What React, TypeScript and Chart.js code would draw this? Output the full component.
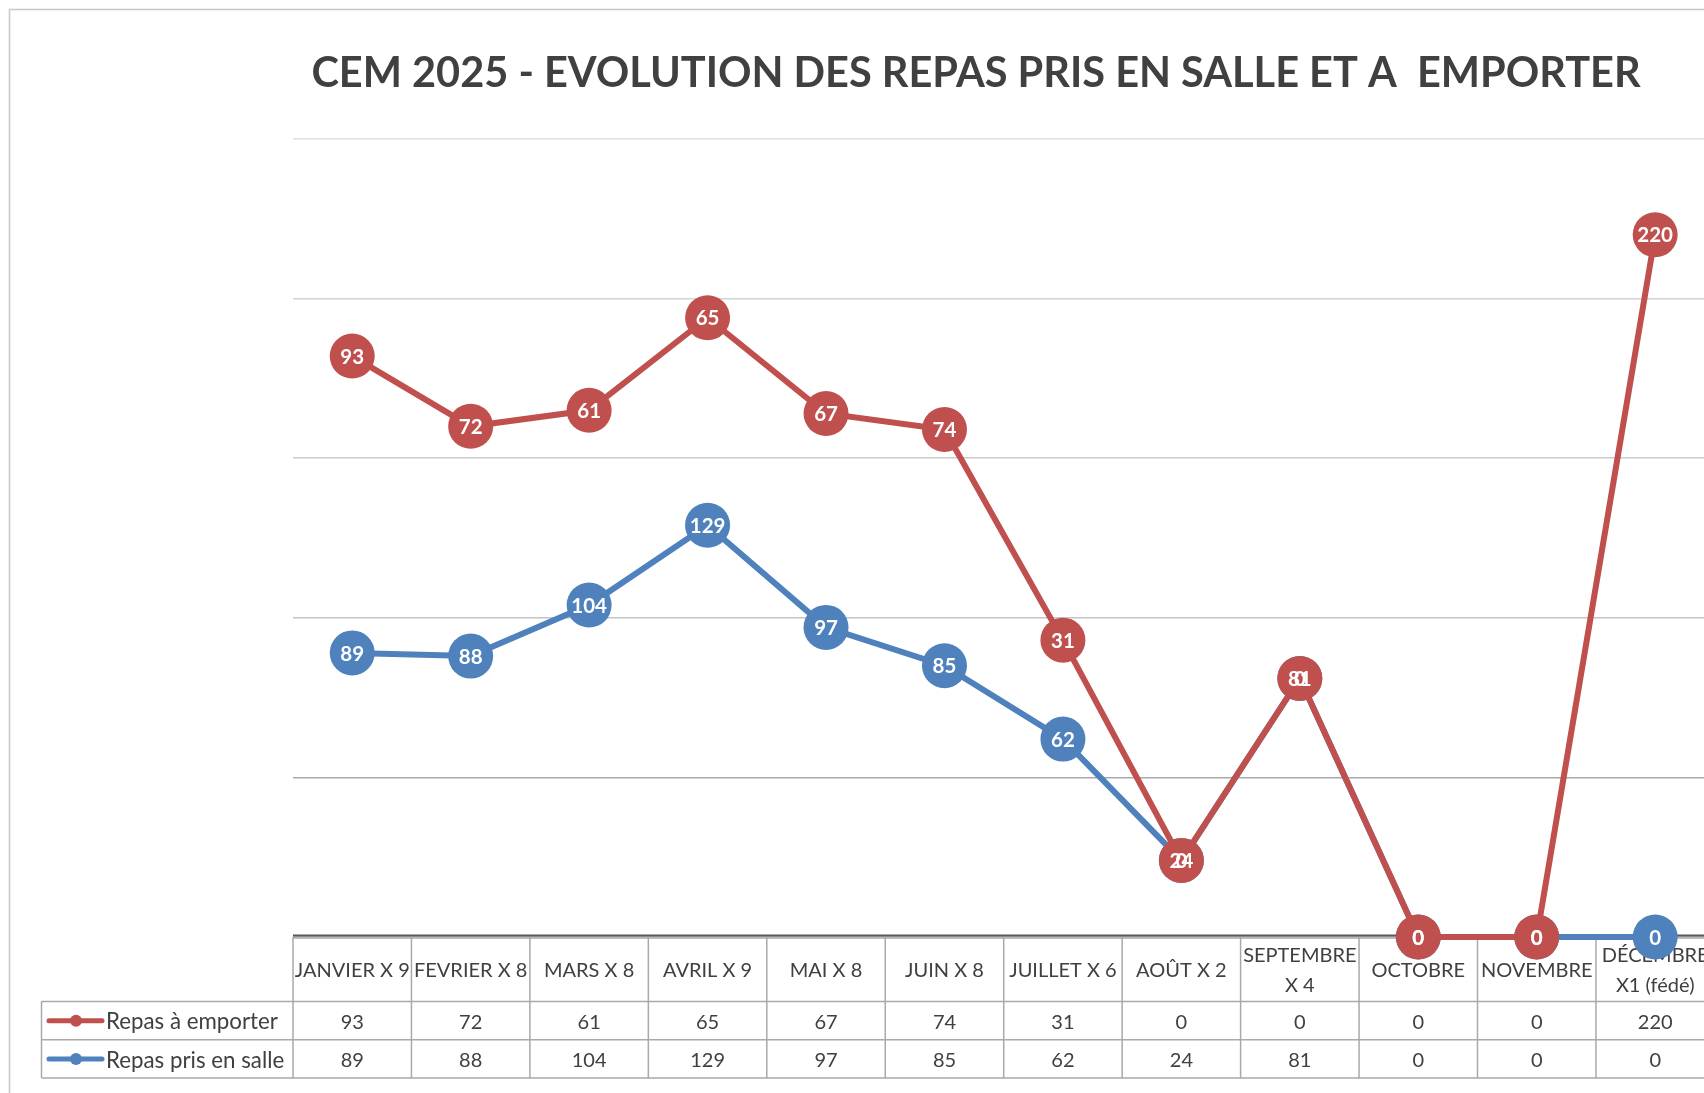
import React, { useEffect, useRef } from "react";
import { Chart, registerables } from "chart.js";

Chart.register(...registerables);

// ---------- data ----------
const TITLE = "CEM 2025 - EVOLUTION DES REPAS PRIS EN SALLE ET A  EMPORTER";

const categories: (string | string[])[] = [
  "JANVIER X 9",
  "FEVRIER X 8",
  "MARS X 8",
  "AVRIL X 9",
  "MAI X 8",
  "JUIN X 8",
  "JUILLET X 6",
  "AOÛT X 2",
  ["SEPTEMBRE", "X 4"],
  "OCTOBRE",
  "NOVEMBRE",
  ["DÉCEMBRE", "X1 (fédé)"],
];

const labelEmporter = "Repas à emporter";
const labelSalle = "Repas pris en salle";
const repasEmporter = [93, 72, 61, 65, 67, 74, 31, 0, 0, 0, 0, 220];
const repasSalle = [89, 88, 104, 129, 97, 85, 62, 24, 81, 0, 0, 0];

const yMin = 0;
const yMax = 250;
const yStep = 50;

// ---------- style ----------
const RED = "#C0504D";
const BLUE = "#4F81BD";
const TEXT = "#404040";
const FONT = "Lato, 'Noto Sans', sans-serif";
const GRID_COLORS = ["#bfbfbf", "#a9a9a9", "#c4c4c4", "#cccccc", "#d4d4d4", "#e0e0e0"];

const CANVAS_W = 1952;
const CANVAS_H = 1093;

function line(ctx: CanvasRenderingContext2D, x1: number, y1: number, x2: number, y2: number) {
  ctx.beginPath();
  ctx.moveTo(x1, y1);
  ctx.lineTo(x2, y2);
  ctx.stroke();
}

const excelPlugin = {
  id: "excelLook",
  beforeDraw(chart: any) {
    const ctx: CanvasRenderingContext2D = chart.ctx;
    ctx.save();
    // chart frame
    ctx.strokeStyle = "#c8c8c8";
    ctx.lineWidth = 1.5;
    ctx.beginPath();
    ctx.moveTo(9.5, chart.height);
    ctx.lineTo(9.5, 9.5);
    ctx.lineTo(chart.width, 9.5);
    ctx.stroke();
    // title
    ctx.fillStyle = TEXT;
    ctx.font = `bold 41.5px ${FONT}`;
    ctx.textAlign = "center";
    ctx.textBaseline = "alphabetic";
    ctx.fillText(TITLE, 976, 87);
    ctx.restore();
  },
  beforeDatasetsDraw(chart: any) {
    const ctx: CanvasRenderingContext2D = chart.ctx;
    const area = chart.chartArea;
    const xs = chart.scales.x;
    const n = categories.length;
    const step = xs.getPixelForValue(1) - xs.getPixelForValue(0);
    const edge = (i: number) => xs.getPixelForValue(i) - step / 2;
    const top = area.bottom;
    const headerBottom = top + 64.5;
    const row1Bottom = headerBottom + 38.3;
    const row2Bottom = row1Bottom + 38.3;
    const legendLeft = 41.5;

    ctx.save();
    // table grid
    ctx.strokeStyle = "#a9a9a9";
    ctx.lineWidth = 1.5;
    line(ctx, edge(0), top + 1, edge(n), top + 1);
    line(ctx, legendLeft, headerBottom, edge(n), headerBottom);
    line(ctx, legendLeft, row1Bottom, edge(n), row1Bottom);
    line(ctx, legendLeft, row2Bottom, edge(n), row2Bottom);
    line(ctx, legendLeft, headerBottom, legendLeft, row2Bottom);
    for (let i = 0; i <= n; i++) line(ctx, edge(i), top, edge(i), row2Bottom);
    // category axis line
    ctx.strokeStyle = "#595959";
    ctx.lineWidth = 2;
    line(ctx, area.left, top - 1.5, area.right, top - 1.5);

    // header labels
    ctx.fillStyle = TEXT;
    ctx.font = `20px ${FONT}`;
    ctx.textAlign = "center";
    ctx.textBaseline = "middle";
    const hMid = (top + headerBottom) / 2 + 1;
    categories.forEach((c, i) => {
      const cx = xs.getPixelForValue(i);
      const lines = Array.isArray(c) ? c : [c];
      const lh = 30;
      lines.forEach((t, k) => {
        ctx.fillText(t, cx, hMid + (k - (lines.length - 1) / 2) * lh);
      });
    });

    // data rows
    const rows = [
      { label: labelEmporter, color: RED, data: repasEmporter, y0: headerBottom, y1: row1Bottom },
      { label: labelSalle, color: BLUE, data: repasSalle, y0: row1Bottom, y1: row2Bottom },
    ];
    rows.forEach((r) => {
      const cy = (r.y0 + r.y1) / 2 + 1.5;
      ctx.font = `20px ${FONT}`;
      r.data.forEach((v, i) => {
        ctx.fillStyle = TEXT;
        ctx.textAlign = "center";
        ctx.fillText(String(v), xs.getPixelForValue(i), cy);
      });
      // legend key
      const ky = (r.y0 + r.y1) / 2;
      ctx.strokeStyle = r.color;
      ctx.lineWidth = 5;
      ctx.lineCap = "round";
      line(ctx, 49, ky, 102, ky);
      ctx.fillStyle = r.color;
      ctx.beginPath();
      ctx.arc(76, ky, 6, 0, Math.PI * 2);
      ctx.fill();
      ctx.fillStyle = TEXT;
      ctx.textAlign = "left";
      ctx.font = `22.3px ${FONT}`;
      ctx.fillText(r.label, 106, cy);
    });
    ctx.restore();

    // datasets: bottom stack (salle) first, then emporter on top
    [0, 1].forEach((i) => {
      const meta = chart.getDatasetMeta(i);
      if (!meta.hidden) meta.controller.draw();
    });

    // value labels inside markers
    ctx.save();
    ctx.fillStyle = "#ffffff";
    ctx.font = `bold 20.5px ${FONT}`;
    ctx.textAlign = "center";
    ctx.textBaseline = "middle";
    [0, 1].forEach((i) => {
      const meta = chart.getDatasetMeta(i);
      const ds = chart.data.datasets[i];
      meta.data.forEach((pt: any, j: number) => {
        ctx.fillText(String(ds.data[j]), pt.x, pt.y + 1);
      });
    });
    ctx.restore();
    return false;
  },
};

export default function App() {
  const ref = useRef<HTMLCanvasElement | null>(null);

  useEffect(() => {
    if (!ref.current) return;
    const chart = new Chart(ref.current, {
      type: "line",
      data: {
        labels: categories,
        datasets: [
          {
            label: labelSalle,
            data: repasSalle,
            borderColor: BLUE,
            backgroundColor: BLUE,
            borderWidth: 6,
            pointRadius: 22.5,
            pointBorderWidth: 0,
            pointBackgroundColor: BLUE,
            tension: 0,
            fill: false,
            clip: false,
          },
          {
            label: labelEmporter,
            data: repasEmporter,
            borderColor: RED,
            backgroundColor: RED,
            borderWidth: 6,
            pointRadius: 22.5,
            pointBorderWidth: 0,
            pointBackgroundColor: RED,
            tension: 0,
            fill: false,
            clip: false,
          },
        ],
      },
      options: {
        responsive: false,
        animation: false,
        devicePixelRatio: 1,
        events: [],
        layout: { padding: { left: 293, right: CANVAS_W - 1714.4, top: 139, bottom: CANVAS_H - 937 } },
        plugins: {
          legend: { display: false },
          title: { display: false },
          tooltip: { enabled: false },
        },
        scales: {
          x: { display: false, offset: true },
          y: {
            stacked: true,
            min: yMin,
            max: yMax,
            display: true,
            border: { display: false },
            ticks: { display: false, stepSize: yStep },
            grid: {
              drawTicks: false,
              lineWidth: 1.5,
              color: (c: any) => GRID_COLORS[c.index] || "#d9d9d9",
            },
            afterFit: (s: any) => {
              s.width = 0;
            },
          },
        },
      },
      plugins: [excelPlugin],
    });
    return () => chart.destroy();
  }, []);

  return (
    <div
      style={{
        position: "fixed",
        left: 0,
        top: 0,
        width: 1704,
        height: 1093,
        overflow: "hidden",
        background: "#ffffff",
      }}
    >
      <canvas ref={ref} width={CANVAS_W} height={CANVAS_H} style={{ display: "block" }} />
    </div>
  );
}
